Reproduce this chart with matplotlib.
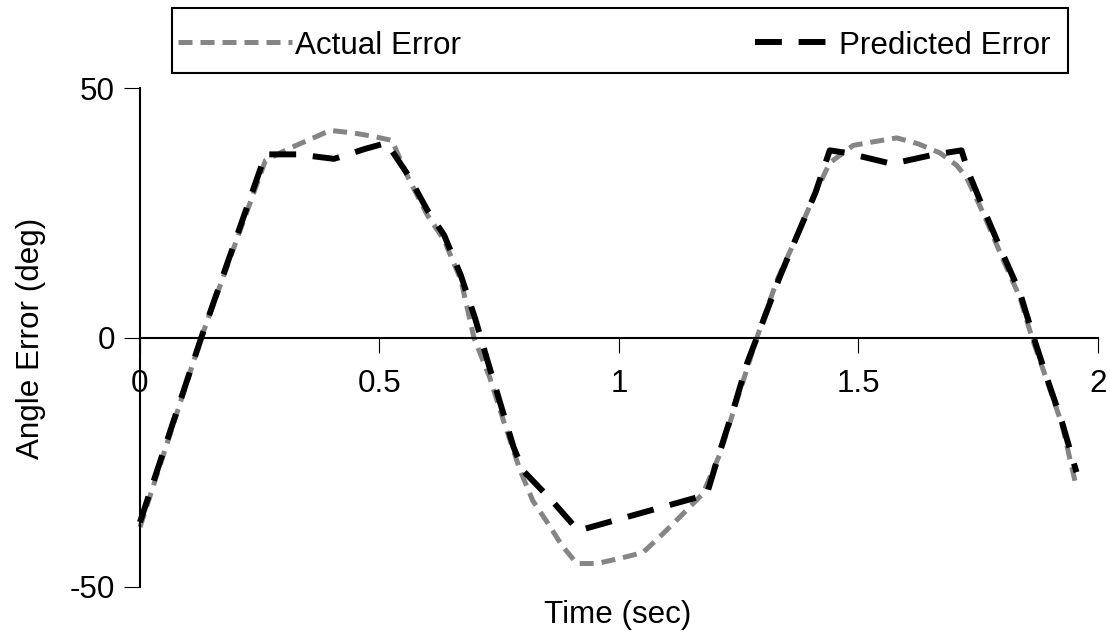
import matplotlib
matplotlib.use("Agg")
import matplotlib.pyplot as plt
from matplotlib.lines import Line2D
from matplotlib.patches import Rectangle

plt.rcParams['font.family'] = ['Liberation Sans', 'DejaVu Sans']
FS = 22.6

# Measured (actual) tracking error
actual_t = [0.0, 0.128, 0.262, 0.307, 0.35, 0.397, 0.445, 0.487, 0.526, 0.56,
            0.60, 0.635, 0.67, 0.697, 0.73, 0.76, 0.793, 0.82, 0.852, 0.881,
            0.912, 0.954, 1.0, 1.05, 1.092, 1.134, 1.175, 1.21, 1.24, 1.288,
            1.33, 1.37, 1.41, 1.44, 1.489, 1.53, 1.58, 1.625, 1.67, 1.705,
            1.726, 1.76, 1.80, 1.837, 1.862, 1.893, 1.925, 1.955]
actual_err = [-38, 0, 35.5, 37.7, 39.5, 41.5, 41, 40.3, 39.5, 32,
              24.5, 19.5, 11.5, 0, -8, -17, -26.5, -32.7, -37.3, -41.7,
              -45.3, -45.3, -44.3, -43.1, -39.3, -35.3, -31.3, -23.5, -14.5, 0,
              11.5, 20, 29, 35, 38.5, 39.2, 40, 38.8, 37, 34.5,
              32, 25, 16, 8, 0, -8.5, -17.5, -30]

# Model-predicted error
pred_t = [0.0, 0.128, 0.262, 0.33, 0.405, 0.47, 0.515, 0.56, 0.60, 0.635,
          0.67, 0.70, 0.725, 0.75, 0.78, 0.80, 0.86, 0.915, 1.183, 1.21,
          1.24, 1.268, 1.288, 1.335, 1.37, 1.41, 1.44, 1.475, 1.57, 1.655,
          1.715, 1.73, 1.76, 1.80, 1.837, 1.864, 1.893, 1.925, 1.955]
pred_err = [-37, 0, 36.7, 36.7, 35.8, 37.8, 39, 32.5, 25.5, 20.5,
            12.4, 3.7, -4.5, -12.5, -22, -26.7, -32.7, -38.7, -31.5, -23,
            -14, -5, 0, 12, 20, 29, 37.5, 37, 34.8, 36.6,
            37.5, 33, 26, 17, 9, 0.5, -8, -17, -27]

x_ticks = [0, 0.5, 1, 1.5, 2]
x_labels = ['0', '0.5', '1', '1.5', '2']
y_ticks = [-50, 0, 50]
y_labels = ['-50', '0', '50']

W, H = 1110, 632
fig = plt.figure(figsize=(W / 100, H / 100), dpi=100)
ax = fig.add_axes([140 / W, 1 - 587 / H, 958 / W, 499 / H])

GRAY = '#858585'
gray_style = dict(color=GRAY, lw=3.6, linestyle=(0, (2.8, 1.6)))
black_style = dict(color='black', lw=4.3, linestyle=(0, (4.5, 2.8)))

ax.plot(actual_t, actual_err, zorder=2, clip_on=False, **gray_style)
ax.plot(pred_t, pred_err, zorder=3, clip_on=False, **black_style)

ax.set_xlim(0, 2)
ax.set_ylim(-50, 50)
for s in ('top', 'right'):
    ax.spines[s].set_visible(False)
ax.spines['bottom'].set_position(('data', 0))
ax.spines['bottom'].set_linewidth(1.5)
ax.spines['left'].set_linewidth(1.5)

ax.set_xticks(x_ticks)
ax.set_xticklabels(x_labels, fontsize=FS)
ax.set_yticks(y_ticks)
ax.set_yticklabels(y_labels, fontsize=FS)
ax.tick_params(axis='x', direction='out', length=11, width=0.8, pad=12)
ax.tick_params(axis='y', direction='out', length=11.5, width=0.8, pad=6.5)

fig.text(31 / W, 1 - 338 / H, 'Angle Error (deg)', rotation=90,
         ha='center', va='center', fontsize=FS)
fig.text(618 / W, 1 - 623 / H, 'Time (sec)', ha='center', va='baseline',
         fontsize=FS)

# Legend panel across the top
fig.patches.append(Rectangle((172 / W, 1 - 73 / H), 896 / W, 65 / H,
                             transform=fig.transFigure, fill=False,
                             edgecolor='black', lw=1.5))
ly = 1 - 42 / H
fig.lines.append(Line2D([178 / W, 292 / W], [ly, ly],
                        transform=fig.transFigure, **gray_style))
fig.text(295 / W, 1 - 54 / H, 'Actual Error', ha='left', va='baseline',
         fontsize=FS)
fig.lines.append(Line2D([755 / W, 834 / W], [ly, ly],
                        transform=fig.transFigure, **black_style))
fig.text(839 / W, 1 - 54 / H, 'Predicted Error', ha='left', va='baseline',
         fontsize=FS)

fig.savefig('out.png', dpi=100, facecolor='white')
